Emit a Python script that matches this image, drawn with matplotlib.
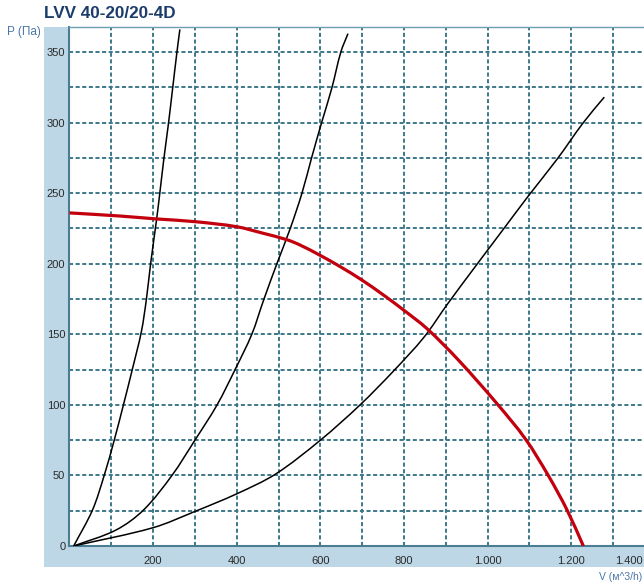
import matplotlib
matplotlib.use("Agg")
import numpy as np
import matplotlib.pyplot as plt
from matplotlib.patches import Rectangle, PathPatch
from matplotlib.path import Path

plt.rcParams['font.family'] = ['Liberation Sans', 'DejaVu Sans']

# Характеристика вентилятора (V, м^3/h -> P, Па)
fan_v = [0, 120, 209, 300, 400, 464, 520, 551, 599, 647, 699, 751, 799, 855, 930,
         1022, 1090, 1145, 1190, 1229]
fan_p = [236, 233.8, 231.7, 229.8, 226.2, 221.5, 217, 213.3, 206, 198, 188.5, 177.8, 167.2,
         154, 131.8, 101, 76, 50, 25.5, 0]

# Характеристики сети
c1_v = [10, 55, 83, 107, 129, 151, 172, 184, 194, 208.6, 216, 226, 237, 247, 257, 264]
c1_p = [0, 25.5, 50, 75, 100, 126, 152, 175, 200, 232, 250, 275, 300, 325, 350, 366]

c2_v = [10, 111, 177, 245, 300, 353, 396, 436, 464, 496, 528, 556, 579, 603, 627, 649, 666]
c2_p = [0, 11.3, 25.5, 50, 75, 100, 125, 150, 174, 200, 225, 250, 275, 300, 324, 350, 363]

c3_v = [10, 200, 300, 400, 493, 600, 695, 775, 848, 903, 968, 1034, 1100, 1166, 1229, 1279]
c3_p = [0, 13, 24.5, 37, 51, 75, 100, 124, 148, 171, 197, 223, 249, 274, 300, 318]

x_ticks = [200, 400, 600, 800, 1000, 1200]
x_labels = ['200', '400', '600', '800', '1.000', '1.200']
y_ticks = [0, 50, 100, 150, 200, 250, 300, 350]

V_MAX, P_MAX = 1374, 367.7


def spline_path(xs, ys):
    # гладкая линия через точки: эрмитов сплайн по длине хорды -> кривые Безье
    pts = np.column_stack([xs, ys]).astype(float)
    scale = np.array([1 / V_MAX, 1 / P_MAX])
    t = np.concatenate([[0], np.cumsum(np.hypot(*(np.diff(pts * scale, axis=0)).T))])
    n = len(pts)
    m = np.zeros_like(pts)
    for i in range(n):
        a, b = max(i - 1, 0), min(i + 1, n - 1)
        m[i] = (pts[b] - pts[a]) / (t[b] - t[a])
    verts = [tuple(pts[0])]
    codes = [Path.MOVETO]
    for i in range(n - 1):
        h = t[i + 1] - t[i]
        verts += [tuple(pts[i] + m[i] * h / 3), tuple(pts[i + 1] - m[i + 1] * h / 3),
                  tuple(pts[i + 1])]
        codes += [Path.CURVE4] * 3
    return Path(verts, codes)


fig = plt.figure(figsize=(6.44, 5.87), dpi=100)
fig.patch.set_facecolor('white')

# голубая подложка под подписями осей
fig.patches.append(Rectangle((0.0683, 0.034), 1 - 0.0683, 0.954 - 0.034,
                             transform=fig.transFigure, facecolor='#bed7e6',
                             edgecolor='none', zorder=-10))

ax = fig.add_axes([0.1079, 0.0698, 1 - 0.1079, 0.954 - 0.0698])
ax.set_facecolor('white')
ax.set_xlim(0, V_MAX)
ax.set_ylim(0, P_MAX)

ax.set_xticks(x_ticks)
ax.set_xticklabels(x_labels)
ax.set_yticks(y_ticks)
ax.set_xticks(range(100, 1400, 100), minor=True)
ax.set_yticks(range(25, 375, 25), minor=True)
ax.tick_params(which='both', length=0, labelsize=8, colors='#2a2a2a')
ax.tick_params(axis='x', pad=7)
ax.tick_params(axis='y', pad=3)

grid_style = dict(color='#3d7889', linewidth=1.4, linestyle=(0, (2.1, 1.3)))
ax.grid(True, which='both', **grid_style)
ax.set_axisbelow(True)

for side in ['left', 'bottom']:
    ax.spines[side].set_color('#4b7d92')
    ax.spines[side].set_linewidth(1.5)
ax.spines['top'].set_color('#6f9db0')
ax.spines['top'].set_linewidth(1.0)
ax.spines['right'].set_visible(False)

for vs, ps in [(c1_v, c1_p), (c2_v, c2_p), (c3_v, c3_p)]:
    ax.add_patch(PathPatch(spline_path(vs, ps), fill=False, edgecolor='black',
                           linewidth=1.1, zorder=3))
ax.add_patch(PathPatch(spline_path(fan_v, fan_p), fill=False, edgecolor='#c3000e',
                       linewidth=2.3, zorder=4, capstyle='butt'))

# последняя подпись оси X прижата к правому краю
ax.annotate('1.400', xy=(0.997, 0), xycoords='axes fraction', xytext=(0, -10.5),
            textcoords='offset points', ha='right', va='center',
            fontsize=8, color='#2a2a2a')

fig.text(0.0683, 0.969, 'LVV 40-20/20-4D', fontsize=12.3, fontweight='bold',
         color='#1c3d6b', ha='left', va='baseline')
fig.text(0.011, 0.946, 'P (Па)', fontsize=8.5, color='#4a76a6', ha='left', va='center')
fig.text(0.997, 0.017, 'V (м^3/h)', fontsize=7.5, color='#4a76a6', ha='right', va='center')

fig.savefig('out.png', dpi=100)
